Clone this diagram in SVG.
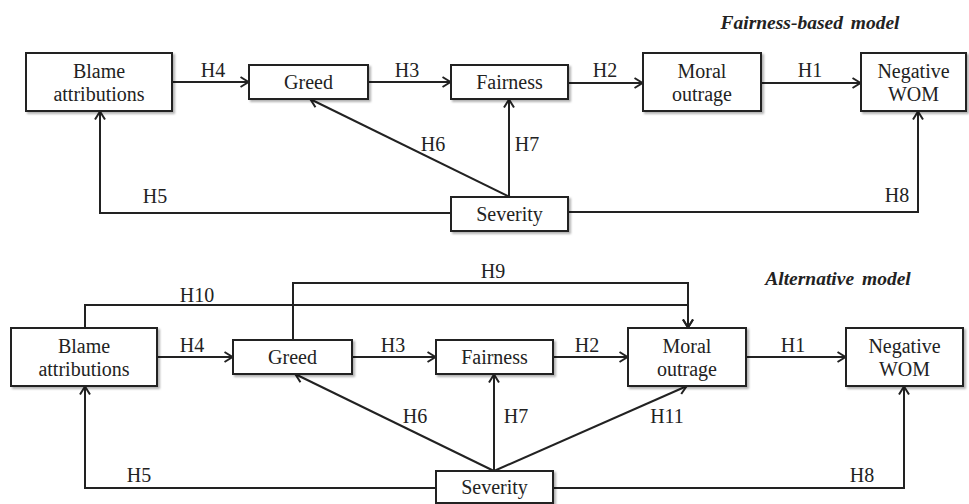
<svg xmlns="http://www.w3.org/2000/svg" width="969" height="504" viewBox="0 0 969 504">
<defs>
<filter id="sh" x="-10%" y="-10%" width="130%" height="140%">
<feDropShadow dx="2" dy="2" stdDeviation="1.2" flood-color="#000" flood-opacity="0.3"/>
</filter>
<marker id="ah" viewBox="0 0 10 12" refX="9.5" refY="6" markerWidth="10" markerHeight="12" markerUnits="userSpaceOnUse" orient="auto">
<path d="M1,1 L9,6 L1,11" fill="none" stroke="#222" stroke-width="2"/>
</marker>
<style>
.box{fill:#fff;stroke:#222;stroke-width:2;filter:url(#sh)}
.t{font-size:20px;fill:#222;text-anchor:middle}
.ttl{font-size:19.5px;font-weight:bold;font-style:italic;fill:#222;text-anchor:middle;word-spacing:3px}
.c{fill:none;stroke:#222;stroke-width:2}
.a{marker-end:url(#ah)}
</style>
</defs>
<rect width="969" height="504" fill="#fff"/>

<g font-family="'Liberation Serif', 'Times New Roman', serif">
<text class="ttl" x="810" y="29">Fairness-based model</text>
<text class="ttl" x="838" y="285">Alternative model</text>

<g id="connectors">
<line class="c a" x1="172" y1="82" x2="249" y2="82"/>
<line class="c a" x1="368" y1="82" x2="451" y2="82"/>
<line class="c a" x1="568" y1="83" x2="643" y2="83"/>
<line class="c a" x1="761" y1="83" x2="861" y2="83"/>
<polyline class="c a" points="451,213 100,213 100,111"/>
<line class="c a" x1="510" y1="197" x2="310" y2="99"/>
<line class="c a" x1="509" y1="197" x2="509" y2="99"/>
<polyline class="c a" points="568,212 918,212 918,111"/>
<line class="c a" x1="157" y1="357" x2="233" y2="357"/>
<line class="c a" x1="352" y1="357" x2="436" y2="357"/>
<line class="c a" x1="553" y1="357" x2="628" y2="357"/>
<line class="c a" x1="746" y1="357" x2="846" y2="357"/>
<polyline class="c a" points="85,328 85,305 688,305 688,328"/>
<polyline class="c a" points="293,340 293,283 688,283 688,328"/>
<polyline class="c a" points="436,488 85,488 85,386"/>
<line class="c a" x1="494" y1="471" x2="295" y2="374"/>
<line class="c a" x1="494" y1="471" x2="494" y2="374"/>
<line class="c a" x1="494" y1="471" x2="687" y2="386"/>
<polyline class="c a" points="553,488 904,488 904,386"/>
</g>

<g id="labels">
<text class="t" x="213" y="77">H4</text>
<text class="t" x="407" y="77">H3</text>
<text class="t" x="605" y="77">H2</text>
<text class="t" x="810" y="77">H1</text>
<text class="t" x="155" y="203">H5</text>
<text class="t" x="433" y="151">H6</text>
<text class="t" x="527" y="151">H7</text>
<text class="t" x="897" y="202">H8</text>
<text class="t" x="192" y="352">H4</text>
<text class="t" x="393" y="352">H3</text>
<text class="t" x="587" y="352">H2</text>
<text class="t" x="793" y="352">H1</text>
<text class="t" x="197" y="302">H10</text>
<text class="t" x="493" y="278">H9</text>
<text class="t" x="139" y="482">H5</text>
<text class="t" x="415" y="423">H6</text>
<text class="t" x="516" y="423">H7</text>
<text class="t" x="667" y="423">H11</text>
<text class="t" x="862" y="482">H8</text>
</g>

<g id="blame1"><rect class="box" x="26" y="53" width="146" height="58"/><text class="t" x="99" y="78">Blame</text><text class="t" x="99" y="101">attributions</text></g>
<g id="greed1"><rect class="box" x="249" y="65" width="119" height="34"/><text class="t" x="308.5" y="89">Greed</text></g>
<g id="fairness1"><rect class="box" x="451" y="65" width="117" height="34"/><text class="t" x="509.5" y="89">Fairness</text></g>
<g id="moral1"><rect class="box" x="643" y="53" width="118" height="58"/><text class="t" x="702" y="78">Moral</text><text class="t" x="702" y="101">outrage</text></g>
<g id="wom1"><rect class="box" x="861" y="53" width="105" height="58"/><text class="t" x="913.5" y="78">Negative</text><text class="t" x="913.5" y="101">WOM</text></g>
<g id="severity1"><rect class="box" x="451" y="197" width="117" height="34"/><text class="t" x="509.5" y="221">Severity</text></g>

<g id="blame2"><rect class="box" x="11" y="328" width="146" height="58"/><text class="t" x="84" y="353">Blame</text><text class="t" x="84" y="376">attributions</text></g>
<g id="greed2"><rect class="box" x="233" y="340" width="119" height="34"/><text class="t" x="292.5" y="364">Greed</text></g>
<g id="fairness2"><rect class="box" x="436" y="340" width="117" height="34"/><text class="t" x="494.5" y="364">Fairness</text></g>
<g id="moral2"><rect class="box" x="628" y="328" width="118" height="58"/><text class="t" x="687" y="353">Moral</text><text class="t" x="687" y="376">outrage</text></g>
<g id="wom2"><rect class="box" x="846" y="328" width="117" height="58"/><text class="t" x="904.5" y="353">Negative</text><text class="t" x="904.5" y="376">WOM</text></g>
<g id="severity2"><rect class="box" x="436" y="471" width="117" height="32"/><text class="t" x="494.5" y="494">Severity</text></g>
</g>
</svg>
